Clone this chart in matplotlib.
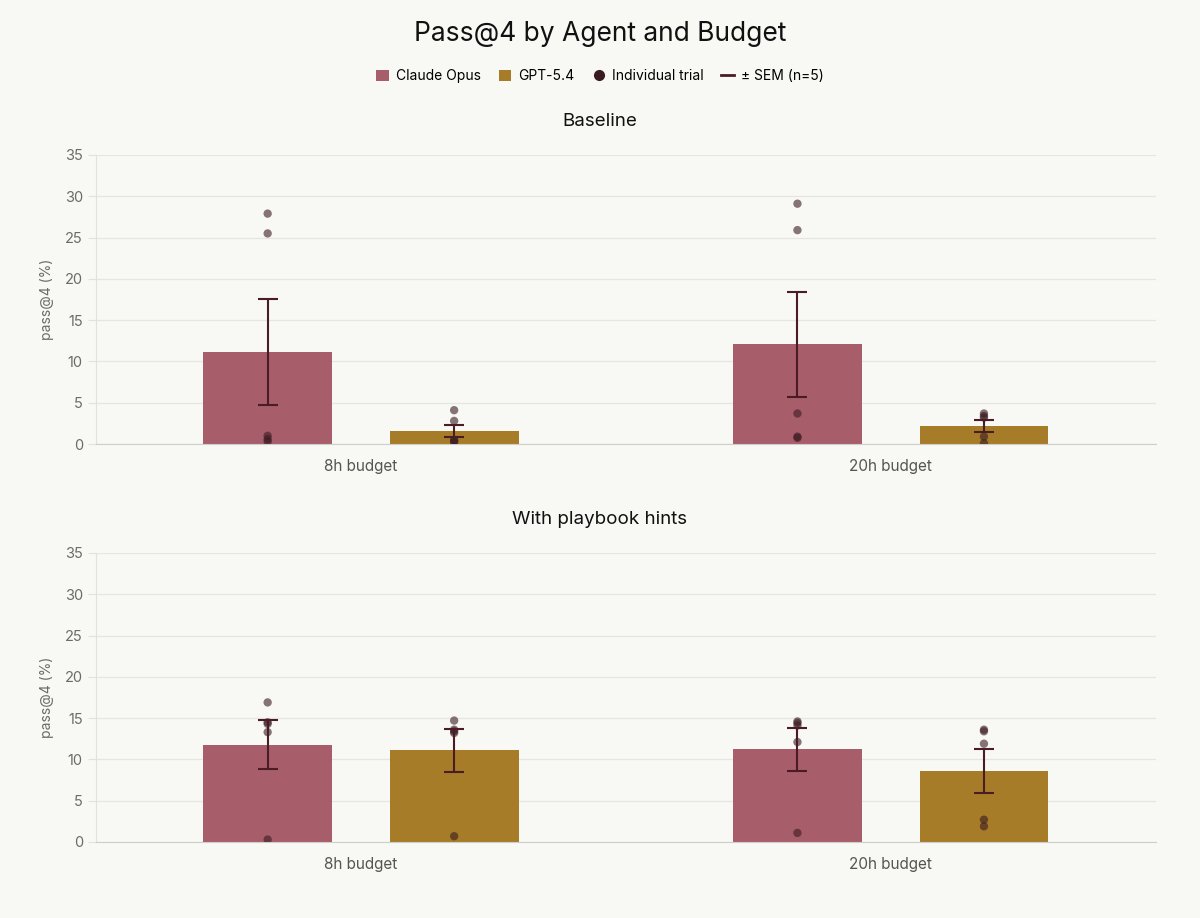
import numpy as np
import matplotlib
matplotlib.use("Agg")
import matplotlib.pyplot as plt
from matplotlib.lines import Line2D
from matplotlib.patches import Patch

plt.rcParams['font.family'] = ['Inter', 'DejaVu Sans']

# ---- data ----
budgets = ["8h budget", "20h budget"]
agents = ["Claude Opus", "GPT-5.4"]
panels = ["Baseline", "With playbook hints"]

# means (pass@4 %) per panel, per agent, per budget
baseline_claude_mean = [11.1, 12.1]
baseline_gpt_mean = [1.6, 2.2]
hints_claude_mean = [11.8, 11.2]
hints_gpt_mean = [11.1, 8.6]

baseline_claude_sem = [6.4, 6.35]
baseline_gpt_sem = [0.75, 0.75]
hints_claude_sem = [2.95, 2.6]
hints_gpt_sem = [2.6, 2.65]

# individual trials (n=5)
baseline_claude_trials = [[27.9, 25.5, 1.0, 0.6, 0.3], [29.1, 25.9, 3.7, 0.9, 0.75]]
baseline_gpt_trials = [[4.1, 2.8, 0.5, 0.4, 0.2], [3.7, 3.4, 3.2, 0.9, 0.1]]
hints_claude_trials = [[16.9, 14.5, 14.3, 13.3, 0.3], [14.6, 14.4, 14.1, 12.1, 1.1]]
hints_gpt_trials = [[14.7, 13.6, 13.4, 13.2, 0.7], [13.6, 13.4, 11.9, 2.7, 1.9]]

yticks = [0, 5, 10, 15, 20, 25, 30, 35]

# ---- style ----
BG = "#f8f8f4"
C_CLAUDE = "#a85d6a"
C_GPT = "#a67c28"
C_DOT = "#3b1b22"
C_ERR = "#4a1d26"
GRID = "#e6e6e1"
TICK = "#6b6b6b"

fig = plt.figure(figsize=(12, 9.18), dpi=100, facecolor=BG)

AX_LEFT, AX_W = 0.08, 0.883
axes_rects = [
    [AX_LEFT, 0.5163, AX_W, 0.3149],
    [AX_LEFT, 0.0828, AX_W, 0.3149],
]

data = [
    (baseline_claude_mean, baseline_gpt_mean, baseline_claude_sem, baseline_gpt_sem,
     baseline_claude_trials, baseline_gpt_trials),
    (hints_claude_mean, hints_gpt_mean, hints_claude_sem, hints_gpt_sem,
     hints_claude_trials, hints_gpt_trials),
]

x = np.arange(len(budgets))
offset = 0.176
width = 0.243

for rect, title, d in zip(axes_rects, panels, data):
    cm, gm, cs, gs, ct, gt = d
    ax = fig.add_axes(rect)
    ax.set_facecolor(BG)
    for pos, means, sems, trials, col in [(x - offset, cm, cs, ct, C_CLAUDE),
                                          (x + offset, gm, gs, gt, C_GPT)]:
        ax.bar(pos, means, width=width, color=col, zorder=2)
        ax.errorbar(pos, means, yerr=sems, fmt='none', ecolor=C_ERR,
                    elinewidth=1.5, capsize=7, capthick=1.5, zorder=4)
        for p, tr in zip(pos, trials):
            ax.scatter([p] * len(tr), tr, s=36, color=C_DOT, alpha=0.6,
                       edgecolors='none', zorder=3)
    ax.set_xlim(-0.5, 1.5)
    ax.set_ylim(0, 35)
    ax.set_yticks(yticks)
    ax.set_xticks(x)
    ax.set_xticklabels(budgets)
    ax.grid(axis='y', color=GRID, linewidth=0.9, zorder=0)
    ax.set_axisbelow(True)
    for s in ['top', 'right']:
        ax.spines[s].set_visible(False)
    ax.spines['left'].set_color("#e2e2dd")
    ax.spines['bottom'].set_color("#cfcfca")
    ax.tick_params(axis='y', colors="#e2e2dd", labelcolor=TICK, labelsize=10.5, length=6)
    ax.tick_params(axis='x', length=0, labelcolor="#555555", labelsize=11, pad=11)
    ax.set_ylabel("pass@4 (%)", color=TICK, fontsize=10, labelpad=8)
    ax.set_title(title, fontsize=13.5, color="#111111", pad=21,
                 x=(0.5 - AX_LEFT) / AX_W)

fig.text(0.5, 0.963, "Pass@4 by Agent and Budget", ha='center', va='center',
         fontsize=19, color="#111111")

handles = [
    Patch(facecolor=C_CLAUDE, edgecolor='none', label=agents[0]),
    Patch(facecolor=C_GPT, edgecolor='none', label=agents[1]),
    Line2D([], [], marker='o', linestyle='none', color=C_DOT, markersize=7,
           label="Individual trial"),
    Line2D([], [], color=C_ERR, linewidth=2, label="± SEM (n=5)"),
]
fig.legend(handles=handles, loc='center', bbox_to_anchor=(0.5, 0.917), ncol=4,
           frameon=False, fontsize=10, handlelength=0.9, handleheight=0.9,
           handletextpad=0.5, columnspacing=1.3)

fig.savefig("out.png", dpi=100, facecolor=BG)
